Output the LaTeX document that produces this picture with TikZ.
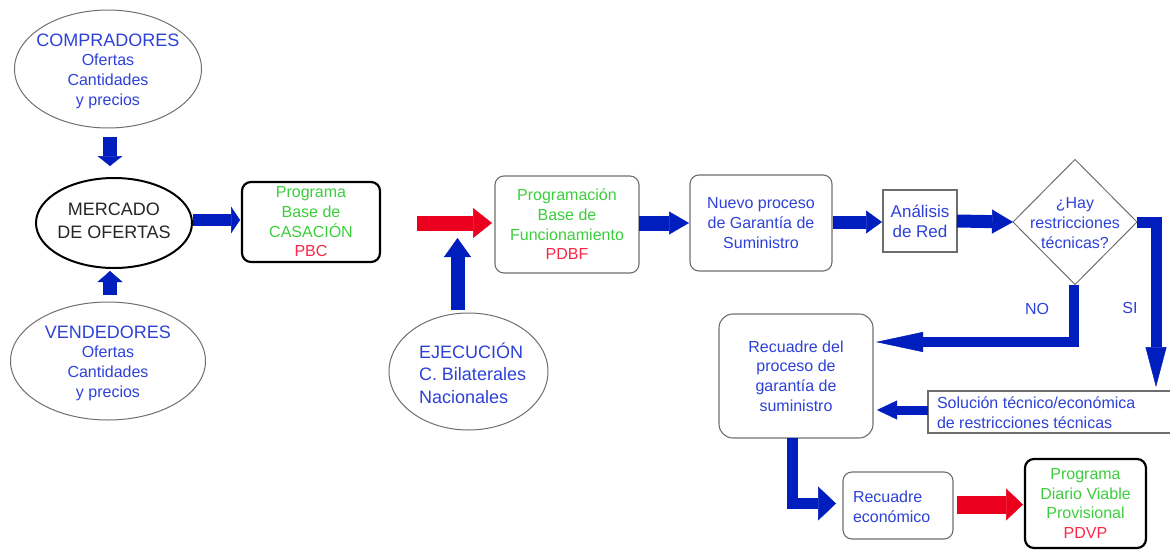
\documentclass[tikz,border=0pt]{standalone}
\usepackage{fontspec}
\setmainfont{Liberation Sans}
\usetikzlibrary{shapes.geometric,arrows.meta,calc}
\definecolor{tblue}{RGB}{45,65,215}
\definecolor{tgreen}{RGB}{60,205,60}
\definecolor{tred}{RGB}{250,40,70}
\definecolor{ablue}{RGB}{0,30,190}
\definecolor{ared}{RGB}{235,0,30}
\definecolor{bgray}{RGB}{110,110,110}
\begin{document}
\begin{tikzpicture}[x=1pt,y=-1pt,
  every node/.style={inner sep=0pt,outer sep=0pt},
  txt/.style={font=\fontsize{16}{19.7}\selectfont,align=center,text=tblue},
  bigtxt/.style={font=\fontsize{18}{22.5}\selectfont},
  oval/.style={ellipse,draw=bgray,line width=1pt},
  gbox/.style={rectangle,rounded corners=9pt,draw=bgray,line width=1.1pt},
  kbox/.style={rectangle,rounded corners=9pt,draw=black,line width=2.2pt},
  sbox/.style={rectangle,draw=bgray,line width=1.1pt},
  barr/.style n args={3}{draw=ablue,line width=#1,line join=miter,
    -{Triangle[length=#2,width=#3,line width=0.5pt]}},
  rarr/.style n args={3}{draw=ared,line width=#1,line join=miter,
    -{Triangle[length=#2,width=#3,line width=0.5pt]}}
]
\useasboundingbox (0,0) rectangle (1170,549);

% ellipses
\node[oval,minimum width=187pt,minimum height=118pt] (comp) at (108,69) {};
\node[txt] (compt) at (108,71) {{\fontsize{18}{20}\selectfont COMPRADORES}\\Ofertas\\Cantidades\\y precios};
\node[ellipse,draw=black,line width=2pt,minimum width=156pt,minimum height=90pt] (merc) at (114,223) {};
\node[txt,bigtxt,text=black!85] (merct) at (114,221) {MERCADO\\DE OFERTAS};
\node[oval,minimum width=195pt,minimum height=118pt] (vend) at (108,361) {};
\node[txt] (vendt) at (108,363) {{\fontsize{18}{20}\selectfont VENDEDORES}\\Ofertas\\Cantidades\\y precios};
\node[oval,minimum width=159pt,minimum height=117pt] (ejec) at (468.5,371.5) {};
\node[txt,bigtxt,align=left,anchor=west] (eject) at (419,373) {EJECUCIÓN\\C. Bilaterales\\Nacionales};

% boxes
\node[kbox,minimum width=138pt,minimum height=80pt,txt,text=tgreen] (pbc) at (311,222)
  {Programa\\Base de\\CASACIÓN\\\textcolor{tred}{PBC}};
\node[gbox,minimum width=144pt,minimum height=97pt,txt,text=tgreen] (pdbf) at (567,224.5)
  {Programación\\Base de\\Funcionamiento\\\textcolor{tred}{PDBF}};
\node[gbox,minimum width=142pt,minimum height=96pt,txt] (nuevo) at (761,223)
  {Nuevo proceso\\de Garantía de\\Suministro};
\node[sbox,minimum width=74pt,minimum height=62pt,txt,font=\fontsize{17}{20}\selectfont] (anal) at (920,221)
  {Análisis\\de Red};
\node[diamond,draw=bgray,line width=1pt,minimum width=124pt,minimum height=125pt] (dia) at (1075,222) {};
\node[txt] (diat) at (1075,223) {¿Hay\\restricciones\\técnicas?};
\node[gbox,rounded corners=14pt,minimum width=154pt,minimum height=124pt,txt] (rec) at (796,376)
  {Recuadre del\\proceso de\\garantía de\\suministro};
\node[sbox,minimum width=244pt,minimum height=42pt,anchor=north west] (sol) at (928,391) {};
\node[txt,align=left,anchor=west] (solt) at (937,412.5) {Solución técnico/económica\\de restricciones técnicas};
\node[gbox,minimum width=110pt,minimum height=67pt] (receco) at (898,505.5) {};
\node[txt,align=left,anchor=west] (recocot) at (853,506.5) {Recuadre\\económico};
\node[kbox,minimum width=121pt,minimum height=89pt,txt,text=tgreen] (pdvp) at (1085.5,503.5)
  {Programa\\Diario Viable\\Provisional\\\textcolor{tred}{PDVP}};

% labels
\node[txt] (nolab) at (1037,309) {NO};
\node[txt] (silab) at (1130,308) {SI};

% arrows
\draw[barr={14pt}{10pt}{25pt}] ($(comp.south)+(2,9)$) -- ($(merc.north)+(-4,-12)$);
\draw[barr={14pt}{11pt}{25pt}] ($(vend.north)+(2,-7)$) -- ($(merc.south)+(-4,3)$);
\draw[barr={12pt}{9pt}{27pt}] ($(merc.east)+(1,-3)$) -- ($(pbc.west)+(-2,-2)$);
\draw[rarr={15pt}{19pt}{30pt}] ($(pbc.east)+(37,1)$) -- ($(pdbf.west)+(-3,-1.5)$);
\draw[barr={14pt}{19pt}{27pt}] ($(ejec.north)+(-11,-3)$) -- ($(ejec.north)+(-11,-75)$);
\draw[barr={15pt}{20pt}{23pt}] ($(pdbf.east)+(0,-1.5)$) -- ($(nuevo.west)+(-1,0)$);
\draw[barr={13pt}{16pt}{23pt}] ($(nuevo.east)+(1,-1)$) -- ($(anal.west)+(-1,1)$);
\draw[barr={13pt}{21pt}{24pt}] (anal.east) -- (dia.west);
\draw[barr={11pt}{40pt}{21pt}] (dia.east) -- ++(19,0) -- ++(0,165);
\draw[barr={10pt}{47pt}{20pt}] ($(dia.south)+(-1,0)$) |- ($(rec.north east)+(3,28)$);
\draw[barr={9pt}{20pt}{19pt}] ($(sol.west)+(0,-2)$) -- ($(rec.east)+(4,34)$);
\draw[barr={11pt}{18pt}{34pt}] ($(rec.south)+(-4,0)$) |- ($(receco.west)+(-7,-2)$);
\draw[rarr={18pt}{17pt}{32pt}] ($(receco.east)+(4,-1)$) -- ($(pdvp.west)+(-2,1)$);
\end{tikzpicture}
\end{document}
